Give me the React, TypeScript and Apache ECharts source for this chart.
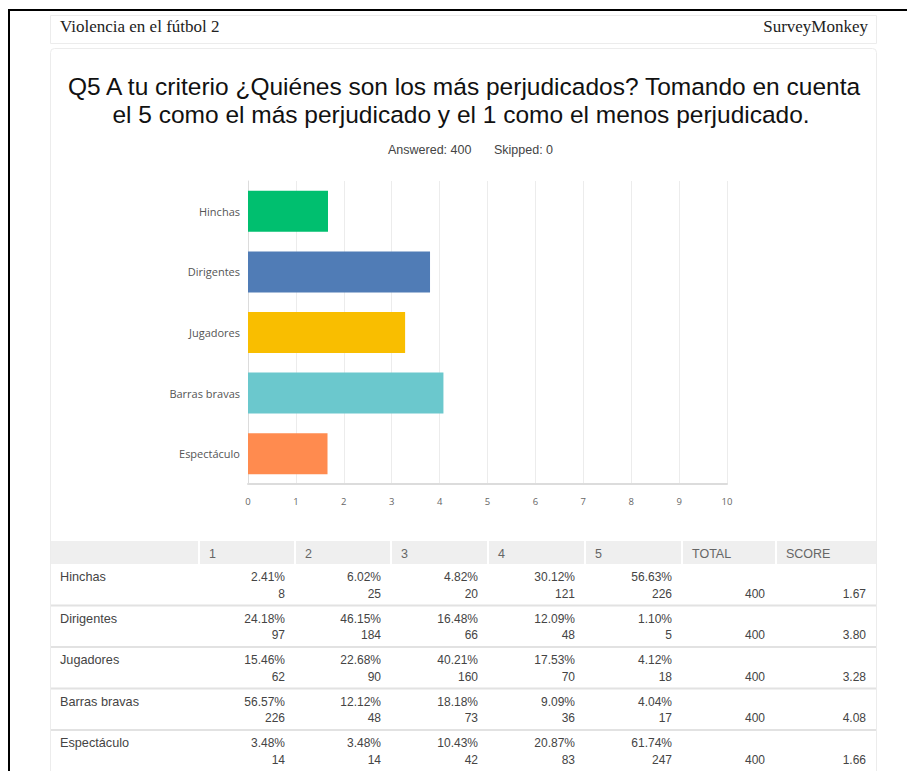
import React, { useEffect, useRef } from "react";
import * as echarts from "echarts";

const categories = ["Hinchas", "Dirigentes", "Jugadores", "Barras bravas", "Espectáculo"];
const scores = [1.67, 3.8, 3.28, 4.08, 1.66];
const ratingLabels = ["1", "2", "3", "4", "5"];
const percentHinchas = [2.41, 6.02, 4.82, 30.12, 56.63];
const percentDirigentes = [24.18, 46.15, 16.48, 12.09, 1.1];
const percentJugadores = [15.46, 22.68, 40.21, 17.53, 4.12];
const percentBarras = [56.57, 12.12, 18.18, 9.09, 4.04];
const percentEspectaculo = [3.48, 3.48, 10.43, 20.87, 61.74];
const countHinchas = [8, 25, 20, 121, 226];
const countDirigentes = [97, 184, 66, 48, 5];
const countJugadores = [62, 90, 160, 70, 18];
const countBarras = [226, 48, 73, 36, 17];
const countEspectaculo = [14, 14, 42, 83, 247];
const totals = [400, 400, 400, 400, 400];
const answered = 400;
const skipped = 0;

const percents = [percentHinchas, percentDirigentes, percentJugadores, percentBarras, percentEspectaculo];
const counts = [countHinchas, countDirigentes, countJugadores, countBarras, countEspectaculo];

const barColors = ["#00BF6F", "#507CB6", "#F9BE00", "#6BC8CD", "#FF8B4F"];

const SANS = "'Liberation Sans', Arial, sans-serif";
const SERIF = "'Liberation Serif', 'Times New Roman', serif";
const OPEN = "'Open Sans', sans-serif";

function txt(text: string, x: number, y: number, font: string, fill: string, align = "left") {
  return {
    type: "text",
    x,
    y,
    silent: true,
    style: {
      text,
      font,
      fill,
      textAlign: align,
      align,
      textVerticalAlign: "middle",
      verticalAlign: "middle",
    },
  };
}

function buildGraphics() {
  const g: any[] = [];
  // black frame
  g.push({ type: "line", shape: { x1: 8, y1: 10, x2: 907, y2: 10 }, style: { stroke: "#000", lineWidth: 2 } });
  g.push({ type: "line", shape: { x1: 9, y1: 9, x2: 9, y2: 771 }, style: { stroke: "#000", lineWidth: 2 } });
  // header box
  g.push({ type: "rect", shape: { x: 50.5, y: 15.5, width: 826, height: 28 }, style: { fill: "#fff", stroke: "#ececec", lineWidth: 1 } });
  g.push(txt("Violencia en el fútbol 2", 60, 26, `17px ${SERIF}`, "#222"));
  g.push(txt("SurveyMonkey", 868, 26, `17px ${SERIF}`, "#222", "right"));
  // content box
  g.push({ type: "rect", shape: { x: 50.5, y: 48.5, width: 826, height: 760, r: 4 }, style: { fill: "none", stroke: "#ececec", lineWidth: 1 } });
  // title
  g.push(txt("Q5 A tu criterio ¿Quiénes son los más perjudicados? Tomando en cuenta", 464, 86, `24.5px ${SANS}`, "#111", "center"));
  g.push(txt("el 5 como el más perjudicado y el 1 como el menos perjudicado.", 461, 114, `24.5px ${SANS}`, "#111", "center"));
  g.push(txt(`Answered: ${answered}`, 388, 150, `12.5px ${SANS}`, "#444"));
  g.push(txt(`Skipped: ${skipped}`, 494, 150, `12.5px ${SANS}`, "#444"));

  // table
  const seps = [199, 295, 391, 488, 585, 682, 776, 876];
  const headTop = 541;
  const headH = 23;
  g.push({ type: "rect", shape: { x: 51, y: headTop, width: 825, height: headH }, style: { fill: "#efefef" } });
  for (let i = 0; i < 7; i++) {
    g.push({ type: "rect", shape: { x: seps[i] - 1, y: headTop, width: 2, height: headH }, style: { fill: "#fff" } });
  }
  const headers = [...ratingLabels, "TOTAL", "SCORE"];
  headers.forEach((h, i) => {
    g.push(txt(h, seps[i] + 10, headTop + headH / 2 + 1, `12.5px ${SANS}`, "#666"));
  });
  const rowH = 41.5;
  categories.forEach((cat, r) => {
    const top = headTop + headH + r * rowH;
    if (r > 0) {
      g.push({ type: "rect", shape: { x: 51, y: top - 1, width: 825, height: 2 }, style: { fill: "#e2e2e2" } });
    }
    g.push(txt(cat, 60, top + 13, `12.7px ${SANS}`, "#444"));
    for (let c = 0; c < 5; c++) {
      const right = seps[c + 1] - 10;
      g.push(txt(percents[r][c].toFixed(2) + "%", right, top + 13, `12px ${SANS}`, "#444", "right"));
      g.push(txt(String(counts[r][c]), right, top + 29.5, `12px ${SANS}`, "#444", "right"));
    }
    g.push(txt(String(totals[r]), seps[6] - 11, top + 29.5, `12px ${SANS}`, "#444", "right"));
    g.push(txt(scores[r].toFixed(2), seps[7] - 10, top + 29.5, `12px ${SANS}`, "#444", "right"));
  });
  return g;
}

export default function App() {
  const ref = useRef<HTMLDivElement>(null);
  useEffect(() => {
    if (!ref.current) return;
    const chart = echarts.init(ref.current, null, { renderer: "svg" });
    chart.setOption({
      animation: false,
      backgroundColor: "#fff",
      grid: { left: 248, right: 180, top: 181, bottom: 287 },
      xAxis: {
        type: "value",
        min: 0,
        max: 10,
        interval: 1,
        axisLine: { show: true, lineStyle: { color: "#dcdcdc", width: 2 } },
        axisTick: { show: false },
        splitLine: { show: true, lineStyle: { color: "#ececec", width: 1 } },
        axisLabel: { color: "#666", fontSize: 9.5, fontFamily: OPEN, margin: 12 },
      },
      yAxis: {
        type: "category",
        data: categories,
        inverse: true,
        axisLine: { show: true, lineStyle: { color: "#dcdcdc", width: 1 } },
        axisTick: { show: false },
        axisLabel: { color: "#555", fontSize: 11, fontFamily: OPEN, margin: 8 },
      },
      series: [
        {
          type: "bar",
          barWidth: 41,
          data: scores.map((v, i) => ({ value: v, itemStyle: { color: barColors[i] } })),
        },
      ],
      graphic: buildGraphics(),
    });
    return () => chart.dispose();
  }, []);
  return (
    <div
      ref={ref}
      style={{ position: "absolute", left: 0, top: 0, width: 907, height: 771, background: "#fff" }}
    />
  );
}
